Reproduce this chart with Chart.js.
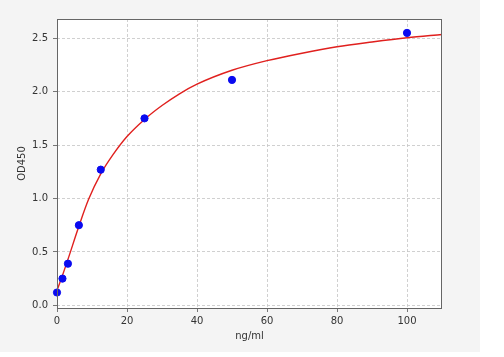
<!DOCTYPE html>
<html>
<head>
<meta charset="utf-8">
<script src="https://cdn.jsdelivr.net/npm/chart.js@4"></script>
<style>
    body { margin: 0; background: #ffffff; }
    #wrap { width: 480px; height: 352px; background: #f4f4f4; }
</style>
</head>
<body>
<div id="wrap"><canvas id="curveChart" width="480" height="352"></canvas></div>
<script>
// standard points
var stdConc = [0, 1.56, 3.125, 6.25, 12.5, 25, 50, 100];
var stdOD = [0.12, 0.25, 0.39, 0.75, 1.27, 1.75, 2.11, 2.55];

// fitted curve
var fitConc = [0, 1.56, 3.125, 6.25, 9, 12.5, 16, 20, 25, 30, 35, 40, 50, 60, 70, 80, 90, 100, 110];
var fitOD = [0.14, 0.28, 0.43, 0.74, 0.99, 1.23, 1.41, 1.58, 1.74, 1.87, 1.98, 2.07, 2.2, 2.29, 2.36, 2.42, 2.465, 2.505, 2.535];

var xTicks = [0, 20, 40, 60, 80, 100];
var yTicks = [0, 0.5, 1.0, 1.5, 2.0, 2.5];

function toPoints(xs, ys) {
    var out = [];
    for (var i = 0; i < xs.length; i++) {
        out.push({ x: xs[i], y: ys[i] });
    }
    return out;
}

var framePlugin = {
    id: 'frame',
    beforeDraw: function(chart) {
        var a = chart.chartArea;
        var ctx = chart.ctx;
        ctx.save();
        ctx.fillStyle = '#ffffff';
        ctx.fillRect(a.left, a.top, a.right - a.left, a.bottom - a.top);
        ctx.restore();
    },
    afterDatasetsDraw: function(chart) {
        var a = chart.chartArea;
        var ctx = chart.ctx;
        ctx.save();
        ctx.strokeStyle = '#666666';
        ctx.lineWidth = 1;
        ctx.strokeRect(a.left + 0.5, a.top + 0.5, a.right - a.left - 1, a.bottom - a.top);
        ctx.restore();
    }
};

var tickFont = { family: 'DejaVu Sans', size: 10 };

new Chart(document.getElementById('curveChart'), {
    type: 'scatter',
    data: {
        datasets: [{
            type: 'scatter',
            data: toPoints(stdConc, stdOD),
            backgroundColor: '#0a0af0',
            borderColor: '#0a0af0',
            pointRadius: 3.6,
            clip: false,
            order: 1
        }, {
            type: 'line',
            data: toPoints(fitConc, fitOD),
            borderColor: '#e0201e',
            borderWidth: 1.4,
            pointRadius: 0,
            fill: false,
            cubicInterpolationMode: 'monotone',
            order: 2
        }]
    },
    options: {
        responsive: false,
        animation: false,
        layout: { padding: { top: 19, right: 38, left: 0, bottom: 0 } },
        plugins: { legend: { display: false }, tooltip: { enabled: false } },
        scales: {
            x: {
                type: 'linear',
                min: 0,
                max: 110,
                afterBuildTicks: function(scale) {
                    scale.ticks = xTicks.map(function(v) { return { value: v }; });
                },
                afterFit: function(scale) { scale.height = 44; },
                ticks: { color: '#333333', font: tickFont, padding: 3, maxRotation: 0 },
                grid: { color: '#c4c4c4', tickColor: '#555555', tickLength: 4, lineWidth: 0.8 },
                border: { display: false, dash: [3, 2] },
                title: { display: true, text: 'ng/ml', color: '#333333', font: tickFont, padding: { top: 0, bottom: 10 } }
            },
            y: {
                min: -0.025,
                max: 2.68,
                afterBuildTicks: function(scale) {
                    scale.ticks = yTicks.map(function(v) { return { value: v }; });
                },
                afterFit: function(scale) { scale.width = 57; },
                ticks: {
                    color: '#333333', font: tickFont, padding: 5,
                    callback: function(v) { return v.toFixed(1); }
                },
                grid: { color: '#c4c4c4', tickColor: '#555555', tickLength: 4, lineWidth: 0.8 },
                border: { display: false, dash: [3, 2] },
                title: { display: true, text: 'OD450', color: '#333333', font: tickFont, padding: { top: 16, bottom: 0 } }
            }
        }
    },
    plugins: [framePlugin]
});
</script>
</body>
</html>
